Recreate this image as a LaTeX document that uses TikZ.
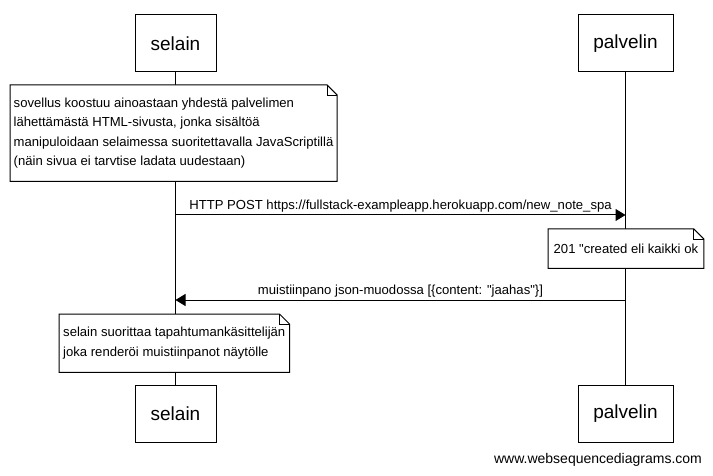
\documentclass[tikz,border=0pt]{standalone}
\usepackage{fontspec}
\setmainfont{Liberation Sans}[Ligatures=TeXOff]
\usetikzlibrary{arrows.meta}
\usetikzlibrary{positioning}
\tikzset{
  actor/.style={draw, line width=1pt, fill=white, minimum height=57pt, inner sep=0pt, font=\fontsize{19}{23}\selectfont},
  note/.style={align=left, anchor=north west, inner ysep=0pt, font=\fontsize{13.1}{19.5}\selectfont,
    append after command={\pgfextra{
      \draw [line width=1pt, fill=white] (\tikzlastnode.south west) -- (\tikzlastnode.north west)
        -- ([xshift=-10pt]\tikzlastnode.north east) -- ([yshift=-10pt]\tikzlastnode.north east)
        -- (\tikzlastnode.south east) -- cycle;
      \draw [line width=0.8pt] ([xshift=-10pt]\tikzlastnode.north east) |- ([yshift=-10pt]\tikzlastnode.north east);
    }}},
  msg/.style={line width=1pt, -{Triangle[length=10pt,width=12pt]}},
  lbl/.style={font=\fontsize{13.1}{15}\selectfont, inner sep=0pt, above=2pt}
}

\begin{document}
\begin{tikzpicture}[x=1pt, y=-1pt]
  \useasboundingbox (0,0) rectangle (713,476);

    \node [actor, minimum width=81pt] (selainTop) at (175.5,43.5) {selain};
    \node [actor, minimum width=95pt] (palvelinTop) at (625.5,43.5) {palvelin};
    \node [actor, minimum width=81pt] (selainBot) at (175.5,413.5) {selain};
    \node [actor, minimum width=95pt] (palvelinBot) at (625.5,413.5) {palvelin};

    \draw [line width=1pt] (selainTop) -- (selainBot);
    \draw [line width=1pt] (palvelinTop) -- (palvelinBot);

    \node [note, inner xsep=3.5pt, minimum height=96pt] (spaNote) at (10,85)
      {sovellus koostuu ainoastaan yhdestä palvelimen\\lähettämästä HTML-sivusta, jonka sisältöä\\manipuloidaan selaimessa suoritettavalla JavaScriptillä\\(näin sivua ei tarvtise ladata uudestaan)};

    \coordinate (postS) at (selainTop |- 0,215);
    \coordinate (postP) at (palvelinTop |- 0,215);
    \draw [msg] (postS) -- node[lbl] {HTTP POST https://fullstack-exampleapp.herokuapp.com/new\_note\_spa} (postP);

    \node [note, inner xsep=5.5pt, minimum height=39pt] (okNote) at (548,229)
      {201 "created eli kaikki ok};

    \coordinate (jsonP) at (palvelinTop |- 0,300);
    \coordinate (jsonS) at (selainTop |- 0,300);
    \draw [msg] (jsonP) -- node[lbl] {muistiinpano json-muodossa [\{content: "jaahas"\}]} (jsonS);

    \node [note, inner xsep=4pt, minimum height=58pt] (renderNote) at (59,314)
      {selain suorittaa tapahtumankäsittelijän\\joka renderöi muistiinpanot näytölle};

    \node [font=\fontsize{14}{16}\selectfont] (wsd) at (598,460) {www.websequencediagrams.com};
\end{tikzpicture}
\end{document}
